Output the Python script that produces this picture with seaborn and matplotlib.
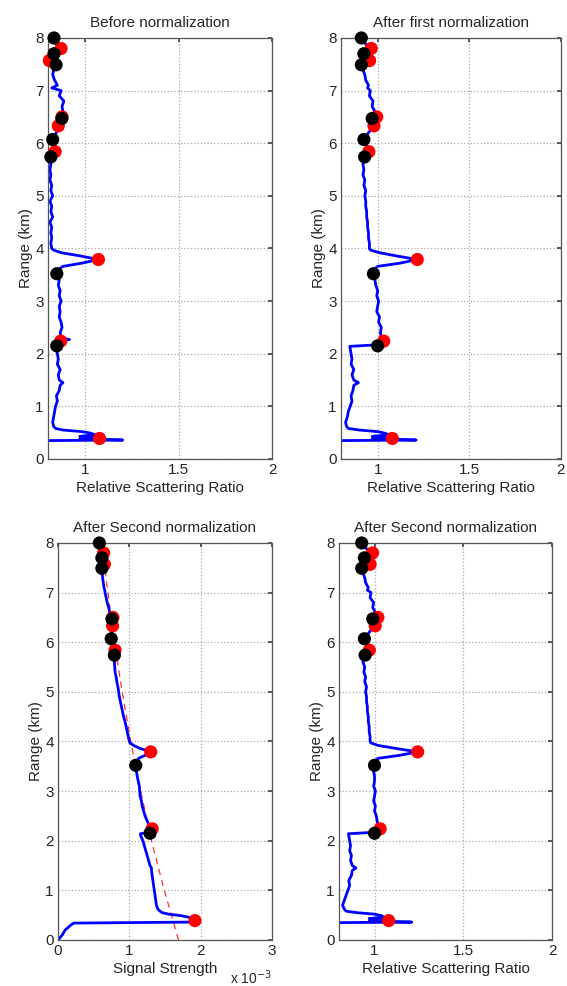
import numpy as np
import pandas as pd
import seaborn as sns
import matplotlib.pyplot as plt

sns.set_theme(style="white")
plt.rcParams['font.family'] = ['Liberation Sans', 'DejaVu Sans']

# range grid shared by all four profiles (km)
range_km = [0.00, 0.05, 0.10, 0.20, 0.30, 0.34, 0.36, 0.38, 0.40, 0.43,
            0.46, 0.49, 0.52, 0.55, 0.58, 0.62, 0.70, 0.80, 0.90, 1.00,
            1.10, 1.20, 1.30, 1.40, 1.45, 1.50, 1.60, 1.70, 1.80, 1.90,
            2.00, 2.10, 2.14, 2.17, 2.20, 2.24, 2.27, 2.30, 2.40, 2.50,
            2.60, 2.70, 2.80, 2.90, 3.00, 3.10, 3.20, 3.30, 3.40, 3.52,
            3.60, 3.66, 3.72, 3.79, 3.86, 3.92, 3.97, 4.00, 4.10, 4.20,
            4.30, 4.40, 4.50, 4.60, 4.70, 4.80, 4.90, 5.00, 5.10, 5.20,
            5.30, 5.40, 5.50, 5.60, 5.74, 5.84, 5.95, 6.07, 6.20, 6.33,
            6.40, 6.48, 6.55, 6.60, 6.70, 6.80, 6.90, 7.00, 7.05, 7.10,
            7.20, 7.30, 7.40, 7.49, 7.57, 7.64, 7.70, 7.80, 7.90, 8.00]

ratio_before = [0.05, 0.10, 0.18, 0.26, 0.32, 0.45, 1.20, 0.97, 1.07, 0.97,
                1.05, 1.03, 0.98, 0.88, 0.84, 0.83, 0.825, 0.83, 0.835, 0.84,
                0.85, 0.845, 0.86, 0.865, 0.88, 0.86, 0.855, 0.865, 0.85, 0.855,
                0.85, 0.845, 0.845, 0.85, 0.86, 0.87, 0.915, 0.87, 0.865, 0.875,
                0.87, 0.86, 0.865, 0.86, 0.87, 0.86, 0.865, 0.855, 0.86, 0.85,
                0.855, 0.88, 0.98, 1.07, 0.97, 0.87, 0.83, 0.82, 0.815, 0.82,
                0.815, 0.82, 0.81, 0.825, 0.815, 0.82, 0.81, 0.825, 0.815, 0.82,
                0.81, 0.815, 0.81, 0.815, 0.815, 0.84, 0.83, 0.825, 0.845, 0.855,
                0.865, 0.875, 0.87, 0.88, 0.875, 0.885, 0.86, 0.87, 0.82, 0.85,
                0.835, 0.825, 0.83, 0.84, 0.81, 0.85, 0.835, 0.87, 0.84, 0.83]

ratio_first = [0.05, 0.10, 0.18, 0.26, 0.32, 0.45, 1.21, 0.97, 1.08, 0.97,
               1.06, 1.04, 1.00, 0.90, 0.84, 0.83, 0.825, 0.835, 0.84, 0.85,
               0.86, 0.855, 0.865, 0.87, 0.895, 0.87, 0.86, 0.87, 0.855, 0.86,
               0.855, 0.85, 0.848, 1.00, 1.01, 1.033, 1.02, 1.02, 1.015, 1.02,
               1.005, 1.01, 0.995, 1.00, 1.005, 0.995, 1.00, 0.99, 0.985, 0.977,
               0.98, 1.00, 1.12, 1.216, 1.10, 1.01, 0.96, 0.955, 0.955, 0.95,
               0.95, 0.945, 0.945, 0.94, 0.94, 0.935, 0.935, 0.93, 0.935, 0.925,
               0.93, 0.92, 0.925, 0.92, 0.93, 0.952, 0.94, 0.925, 0.95, 0.98,
               0.985, 0.99, 0.995, 0.985, 0.97, 0.975, 0.955, 0.96, 0.945, 0.95,
               0.935, 0.93, 0.92, 0.915, 0.95, 0.935, 0.93, 0.96, 0.93, 0.91]

signal_e3 = [0.00, 0.03, 0.06, 0.10, 0.18, 0.22, 1.86, 1.88, 1.92, 1.86,
             1.83, 1.72, 1.55, 1.46, 1.43, 1.40, 1.38, 1.37, 1.36, 1.35,
             1.34, 1.33, 1.32, 1.31, 1.31, 1.29, 1.27, 1.25, 1.23, 1.21,
             1.19, 1.16, 1.155, 1.29, 1.30, 1.32, 1.30, 1.28, 1.25, 1.22,
             1.20, 1.18, 1.17, 1.15, 1.145, 1.14, 1.125, 1.11, 1.10, 1.09,
             1.11, 1.13, 1.22, 1.30, 1.15, 1.06, 1.01, 1.00, 0.985, 0.97,
             0.955, 0.94, 0.92, 0.905, 0.89, 0.875, 0.86, 0.85, 0.84, 0.825,
             0.815, 0.80, 0.795, 0.79, 0.79, 0.80, 0.77, 0.746, 0.755, 0.765,
             0.76, 0.756, 0.74, 0.725, 0.71, 0.69, 0.675, 0.66, 0.655, 0.645,
             0.635, 0.625, 0.62, 0.615, 0.65, 0.63, 0.615, 0.64, 0.61, 0.58]

ratio_second = [0.05, 0.10, 0.18, 0.26, 0.32, 0.45, 1.21, 0.97, 1.08, 0.97,
                1.05, 1.04, 1.00, 0.90, 0.84, 0.83, 0.82, 0.83, 0.84, 0.85,
                0.86, 0.855, 0.87, 0.875, 0.895, 0.875, 0.865, 0.87, 0.86, 0.865,
                0.86, 0.855, 0.853, 1.00, 1.015, 1.032, 1.02, 1.02, 1.015, 1.01,
                1.00, 1.005, 0.995, 1.00, 1.005, 0.995, 1.00, 1.00, 0.995, 1.00,
                1.005, 1.02, 1.14, 1.243, 1.12, 1.02, 0.98, 0.975, 0.975, 0.97,
                0.97, 0.965, 0.965, 0.96, 0.96, 0.955, 0.955, 0.95, 0.955, 0.945,
                0.95, 0.94, 0.945, 0.935, 0.947, 0.971, 0.96, 0.943, 0.97, 1.00,
                1.01, 1.015, 1.02, 1.005, 0.99, 0.995, 0.975, 0.98, 0.96, 0.965,
                0.95, 0.945, 0.935, 0.93, 0.97, 0.95, 0.945, 0.985, 0.95, 0.928]

# fitted reference curve on the signal panel
fit_km = [0, 1, 2, 3, 4, 5, 6, 7, 8]
fit_e3 = [1.69, 1.49, 1.31, 1.16, 1.02, 0.90, 0.79, 0.70, 0.61]

# marked points (red = peaks, black = reference points)
red_km = [7.80, 7.57, 6.50, 6.33, 5.84, 3.79, 2.24, 0.39]
black_km = [8.00, 7.70, 7.49, 6.47, 6.07, 5.74, 3.52, 2.15]

red_before = [0.87, 0.807, 0.875, 0.855, 0.838, 1.07, 0.868, 1.076]
black_before = [0.832, 0.832, 0.843, 0.874, 0.825, 0.815, 0.847, 0.847]
red_first = [0.965, 0.956, 0.995, 0.98, 0.952, 1.216, 1.033, 1.08]
black_first = [0.911, 0.925, 0.911, 0.97, 0.925, 0.929, 0.977, 1.0]
red_signal = [0.64, 0.65, 0.77, 0.765, 0.80, 1.30, 1.32, 1.92]
black_signal = [0.58, 0.615, 0.615, 0.756, 0.746, 0.79, 1.09, 1.29]
red_second = [0.989, 0.975, 1.019, 1.004, 0.971, 1.243, 1.032, 1.08]
black_second = [0.928, 0.943, 0.928, 0.99, 0.943, 0.947, 1.0, 1.0]

titles = ["Before normalization", "After first normalization",
          "After Second normalization", "After Second normalization"]
ratio_ticks = [1, 1.5, 2]
ratio_ticklabels = ["1", "1.5", "2"]
signal_ticks = [0, 1, 2, 3]
signal_ticklabels = ["0", "1", "2", "3"]

fig = plt.figure(figsize=(5.67, 9.86), dpi=100)
ax1 = fig.add_axes([0.0847, 0.5345, 0.3951, 0.4270])
ax2 = fig.add_axes([0.6014, 0.5345, 0.3880, 0.4270])
ax3 = fig.add_axes([0.1023, 0.0467, 0.3774, 0.4026])
ax4 = fig.add_axes([0.5979, 0.0467, 0.3757, 0.4026])

panels = [
    (ax1, ratio_before, red_before, black_before),
    (ax2, ratio_first, red_first, black_first),
    (ax3, signal_e3, red_signal, black_signal),
    (ax4, ratio_second, red_second, black_second),
]

for i, (ax, prof, red_x, black_x) in enumerate(panels):
    sns.lineplot(x=prof, y=range_km, ax=ax, sort=False, estimator=None,
                 color='#0000ff', lw=2.0, zorder=2)
    if i == 2:
        sns.lineplot(x=fit_e3, y=fit_km, ax=ax, sort=False, estimator=None,
                     color='#ff3030', lw=0.9, linestyle=(0, (5, 4)), zorder=1.5)
    sns.scatterplot(x=red_x, y=red_km, ax=ax, color='#ff0000', s=90,
                    edgecolor='none', zorder=3, clip_on=False)
    sns.scatterplot(x=black_x, y=black_km, ax=ax, color='black', s=90,
                    edgecolor='none', zorder=4, clip_on=False)

    ax.set_ylim(0, 8)
    ax.set_yticks(range(9))
    if i == 2:
        ax.set_xlim(0, 3)
        ax.set_xticks(signal_ticks)
        ax.set_xticklabels(signal_ticklabels)
        ax.set_xlabel("Signal Strength", fontsize=11, labelpad=3)
        ax.text(1.0, -0.095, r"x 10$^{-3}$", transform=ax.transAxes,
                ha='right', va='center', fontsize=10)
    else:
        ax.set_xlim(0.8, 2)
        ax.set_xticks(ratio_ticks)
        ax.set_xticklabels(ratio_ticklabels)
        ax.set_xlabel("Relative Scattering Ratio", fontsize=11, labelpad=3)
    ax.set_ylabel("Range (km)", fontsize=11, labelpad=2)
    ax.set_title(titles[i], fontsize=11, pad=8)
    ax.grid(True, linestyle=':', color='#a8a8a8', lw=0.9)
    ax.tick_params(direction='in', top=True, right=True, length=3,
                   labelsize=11, pad=3, color='#444444')
    for sp in ax.spines.values():
        sp.set_color('#555555')
        sp.set_linewidth(0.9)

fig.savefig("out.png", dpi=100)
